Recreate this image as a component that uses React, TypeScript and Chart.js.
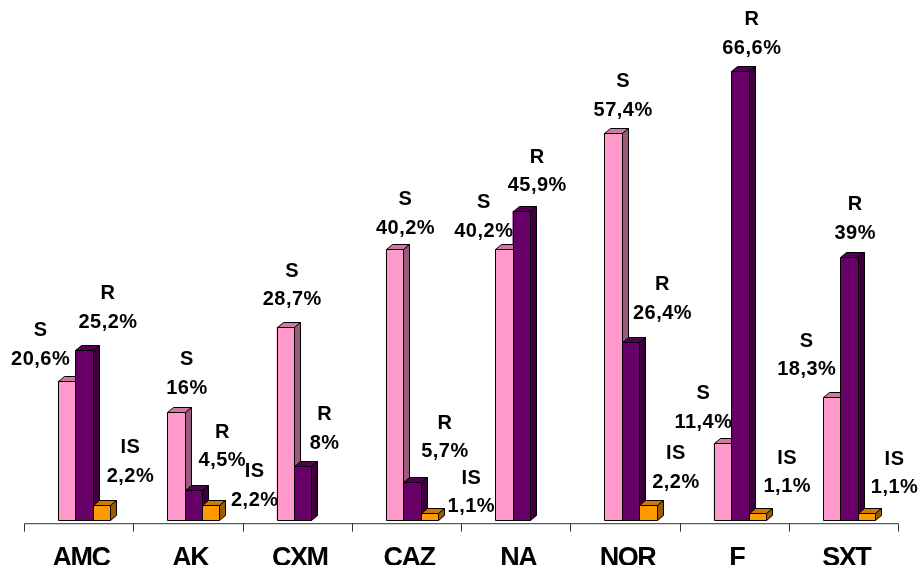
import React, { useEffect, useRef } from "react";
import { Chart, registerables } from "chart.js";

Chart.register(...registerables);

const categories = ["AMC", "AK", "CXM", "CAZ", "NA", "NOR", "F", "SXT"];
const seriesNames = ["S", "R", "IS"];
const sValues = [20.6, 16, 28.7, 40.2, 40.2, 57.4, 11.4, 18.3];
const rValues = [25.2, 4.5, 8, 5.7, 45.9, 26.4, 66.6, 39];
const isValues = [2.2, 2.2, 0, 1.1, 0, 2.2, 1.1, 1.1];

// styling: front / top / side colours per series
const frontColors = ["#FF99CC", "#660066", "#FF9900"];
const topColors = ["#CC7AA3", "#520052", "#CC7A00"];
const sideColors = ["#995C7A", "#3D003D", "#995C00"];

// label placement (style): offset of the value line centre from the bar's front-top centre
const labelOffsets = [
  [[-26, -22], [11, -24], [7, -27], [11, -21], [-20, -18], [10, -23], [-19, -21], [-25, -27]],
  [[24, -28], [29, -29], [22, -23], [33, -30], [16, -25], [32, -29], [12, -23], [6, -24]],
  [[29, -29], [44, -5], [0, 0], [42, -6], [0, 0], [28, -23], [30, -26], [28, -25]],
];

const FONT = "'Liberation Sans', Arial, sans-serif";
const DX = 6;
const DY = 5;

function fmt(v: number) {
  return String(v).replace(".", ",") + "%";
}

function poly(ctx: CanvasRenderingContext2D, pts: number[][], fill: string) {
  ctx.beginPath();
  ctx.moveTo(pts[0][0], pts[0][1]);
  for (let i = 1; i < pts.length; i++) ctx.lineTo(pts[i][0], pts[i][1]);
  ctx.closePath();
  ctx.fillStyle = fill;
  ctx.fill();
  ctx.stroke();
}

const bar3dPlugin = {
  id: "bar3d",
  beforeDraw(chart: any) {
    (chart.ctx as any).letterSpacing = "-1.5px";
  },
  beforeDatasetsDraw(chart: any) {
    (chart.ctx as any).letterSpacing = "0px";
    // axis line and tick marks
    const ctx = chart.ctx as CanvasRenderingContext2D;
    const xs = chart.scales.x;
    const n = categories.length;
    const cw = (xs.right - xs.left) / n;
    const y0 = chart.chartArea.bottom + 3;
    const shift = -5.5;
    ctx.save();
    ctx.strokeStyle = "#333333";
    ctx.lineWidth = 1;
    ctx.beginPath();
    ctx.moveTo(Math.round(xs.left + shift) + 0.5, y0 + 0.5);
    ctx.lineTo(Math.round(xs.right + shift) + 0.5, y0 + 0.5);
    for (let k = 0; k <= n; k++) {
      const tx = Math.round(xs.left + k * cw + shift) + 0.5;
      ctx.moveTo(tx, y0 + 0.5);
      ctx.lineTo(tx, y0 + 8.5);
    }
    ctx.stroke();
    ctx.restore();
  },
  afterDatasetsDraw(chart: any) {
    const ctx = chart.ctx as CanvasRenderingContext2D;
    ctx.save();
    ctx.strokeStyle = "#000000";
    ctx.lineWidth = 1;
    ctx.lineJoin = "miter";
    for (let d = 0; d < 3; d++) {
      const meta = chart.getDatasetMeta(d);
      meta.data.forEach((el: any, i: number) => {
        const v = chart.data.datasets[d].data[i];
        if (!v) return;
        const p = el.getProps(["x", "y", "base", "width"], true);
        const l = Math.round(p.x - p.width / 2) + 0.5;
        const r = Math.round(p.x + p.width / 2) + 0.5;
        const t = Math.round(p.y) + 0.5;
        const b = Math.round(p.base) + 0.5;
        poly(ctx, [[l, t], [r, t], [r, b], [l, b]], frontColors[d]);
        poly(ctx, [[l, t], [l + DX, t - DY], [r + DX, t - DY], [r, t]], topColors[d]);
        poly(ctx, [[r, t], [r + DX, t - DY], [r + DX, b - DY], [r, b]], sideColors[d]);
      });
    }
    // labels
    ctx.fillStyle = "#000000";
    ctx.textAlign = "center";
    ctx.textBaseline = "middle";
    ctx.font = `bold 20px ${FONT}`;
    (ctx as any).letterSpacing = "0.5px";
    for (let d = 0; d < 3; d++) {
      const meta = chart.getDatasetMeta(d);
      meta.data.forEach((el: any, i: number) => {
        const v = chart.data.datasets[d].data[i];
        if (!v) return;
        const p = el.getProps(["x", "y"], true);
        const [ox, oy] = labelOffsets[d][i];
        const cx = p.x + ox;
        const cy = p.y + oy;
        ctx.fillText(seriesNames[d], cx, cy - 28.5);
        ctx.fillText(fmt(v), cx, cy);
      });
    }
    (ctx as any).letterSpacing = "0px";
    ctx.restore();
  },
};

export default function App() {
  const ref = useRef<HTMLCanvasElement | null>(null);

  useEffect(() => {
    if (!ref.current) return;
    const chart = new Chart(ref.current, {
      type: "bar",
      data: {
        labels: categories,
        datasets: [
          { label: seriesNames[0], data: sValues, backgroundColor: frontColors[0], borderWidth: 0 },
          { label: seriesNames[1], data: rValues, backgroundColor: frontColors[1], borderWidth: 0 },
          { label: seriesNames[2], data: isValues, backgroundColor: frontColors[2], borderWidth: 0 },
        ],
      },
      options: {
        animation: false,
        responsive: false,
        devicePixelRatio: 1,
        layout: { padding: { left: 29.4, right: 15.2, top: 14.5, bottom: 7.4 } },
        datasets: { bar: { barPercentage: 1, categoryPercentage: 0.478 } },
        plugins: { legend: { display: false }, tooltip: { enabled: false }, title: { display: false } },
        scales: {
          x: {
            grid: { display: false, drawTicks: false },
            border: { display: false },
            ticks: {
              color: "#000000",
              font: { family: FONT, size: 27, weight: "bold" },
              padding: 22,
              labelOffset: -3,
              maxRotation: 0,
              autoSkip: false,
            },
          },
          y: { display: false, min: 0, max: 75 },
        },
      },
      plugins: [bar3dPlugin],
    });
    return () => chart.destroy();
  }, []);

  return (
    <div style={{ position: "fixed", left: 0, top: 0, width: 919, height: 565, overflow: "hidden", background: "#ffffff" }}>
      <canvas ref={ref} width={919} height={604} style={{ display: "block", width: 919, height: 604 }} />
    </div>
  );
}
